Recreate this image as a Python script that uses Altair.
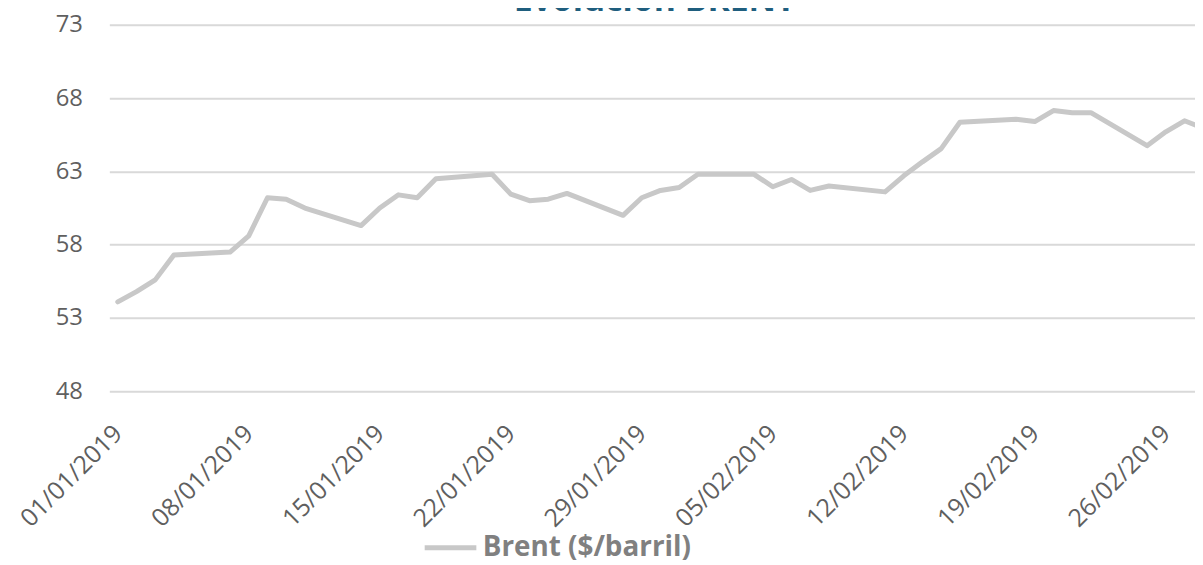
import altair as alt
import pandas as pd

# ---- data ----
dates = [
    "2019-01-01", "2019-01-02", "2019-01-03", "2019-01-04", "2019-01-07",
    "2019-01-08", "2019-01-09", "2019-01-10", "2019-01-11",
    "2019-01-14", "2019-01-15", "2019-01-16", "2019-01-17", "2019-01-18",
    "2019-01-21", "2019-01-22", "2019-01-23", "2019-01-24", "2019-01-25",
    "2019-01-28", "2019-01-29", "2019-01-30", "2019-01-31", "2019-02-01",
    "2019-02-04", "2019-02-05", "2019-02-06", "2019-02-07", "2019-02-08",
    "2019-02-11", "2019-02-12", "2019-02-13", "2019-02-14", "2019-02-15",
    "2019-02-18", "2019-02-19", "2019-02-20", "2019-02-21", "2019-02-22",
    "2019-02-25", "2019-02-26", "2019-02-27", "2019-02-28",
]
brent = [
    54.1, 54.8, 55.6, 57.3, 57.5,
    58.6, 61.2, 61.1, 60.5,
    59.3, 60.5, 61.4, 61.2, 62.5,
    62.8, 61.45, 61.0, 61.1, 61.5,
    60.0, 61.2, 61.7, 61.9, 62.8,
    62.8, 61.95, 62.45, 61.7, 62.0,
    61.6, 62.7, 63.65, 64.55, 66.35,
    66.55, 66.4, 67.15, 67.0, 67.0,
    64.75, 65.7, 66.45, 65.95,
]
series_name = "Brent ($/barril)"
title_text = "Evolución BRENT"
x_tick_dates = [(2019, 1, 1), (2019, 1, 8), (2019, 1, 15), (2019, 1, 22), (2019, 1, 29),
                (2019, 2, 5), (2019, 2, 12), (2019, 2, 19), (2019, 2, 26)]
y_ticks = [48, 53, 58, 63, 68, 73]

df = pd.DataFrame({"fecha": dates, "valor": brent, "serie": [series_name] * len(dates)})
df_title = pd.DataFrame({"t": [title_text]})

label_color = "#5f5f5f"
font = "Open Sans"

x_scale = alt.Scale(
    type="utc",
    domain=[
        alt.DateTime(year=2018, month=12, date=31, hours=13, minutes=10, utc=True),
        alt.DateTime(year=2019, month=2, date=27, hours=13, minutes=30, utc=True),
    ],
)

line = alt.Chart(df).mark_line(
    strokeWidth=5, clip=True, strokeCap="round", strokeJoin="round"
).encode(
    x=alt.X(
        "fecha:T",
        scale=x_scale,
        title=None,
        axis=alt.Axis(
            values=[alt.DateTime(year=y, month=m, date=d, utc=True) for (y, m, d) in x_tick_dates],
            format="%d/%m/%Y",
            labelAngle=315,
            labelAlign="right",
            labelBaseline="middle",
            labelPadding=38,
            labelFont=font,
            labelFontSize=25,
            labelColor=label_color,
            labelOverlap=False,
            labelFlush=False,
            ticks=False,
            domain=False,
            grid=False,
        ),
    ),
    y=alt.Y(
        "valor:Q",
        scale=alt.Scale(domain=[48, 73], nice=False, zero=False),
        title=None,
        axis=alt.Axis(
            values=y_ticks,
            grid=True,
            gridColor="#d9d9d9",
            gridWidth=2,
            domain=False,
            ticks=False,
            labelPadding=27,
            labelFont=font,
            labelFontSize=24,
            labelColor=label_color,
        ),
    ),
    color=alt.Color(
        "serie:N",
        scale=alt.Scale(range=["#c8c8c8"]),
        legend=alt.Legend(
            orient="none",
            legendX=315,
            legendY=498,
            title=None,
            symbolType="stroke",
            symbolSize=2704,
            symbolStrokeWidth=5,
            labelFont=font,
            labelFontSize=28,
            labelFontWeight="bold",
            labelColor="#808080",
            labelOffset=4,
            labelLimit=400,
            padding=0,
        ),
    ),
)

title = alt.Chart(df_title).mark_text(
    font=font, fontSize=34, fontWeight="bold", color="#1F5E7E",
    align="center", baseline="alphabetic",
).encode(text="t:N", x=alt.value(549), y=alt.value(-14))

chart = alt.layer(line, title).properties(
    width=1093,
    height=369,
    autosize=alt.AutoSizeParams(type="none"),
    padding={"left": 102, "top": 15, "right": 0, "bottom": 173},
).configure_view(strokeWidth=0)

chart.save("out.html", embed_options={"renderer": "svg", "actions": False})
